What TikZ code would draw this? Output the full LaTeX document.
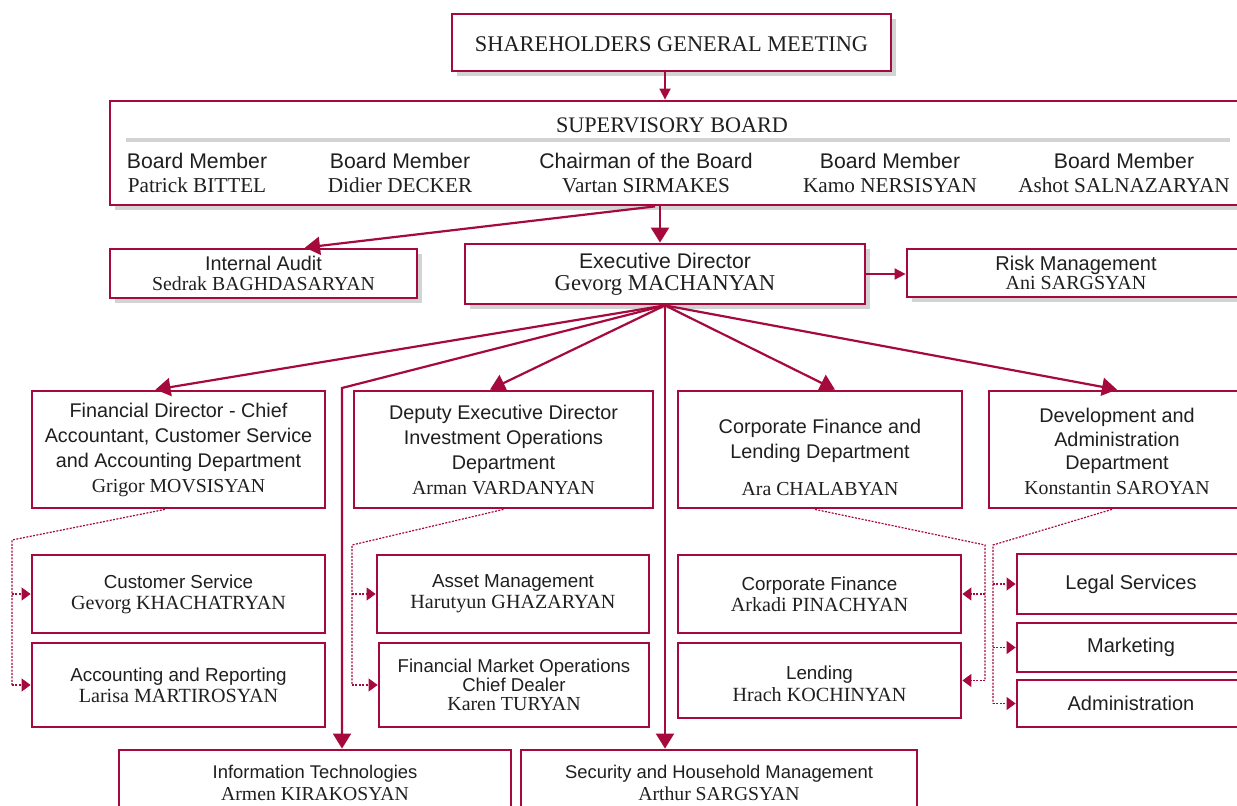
\documentclass[tikz,border=0pt]{standalone}
\usepackage{fontspec}
\setmainfont{Liberation Serif}
\setsansfont{Liberation Sans}
\newfontfamily\largenamefont{Liberation Serif}[Scale=1.07]
\usetikzlibrary{arrows.meta,shadows}
\definecolor{orgred}{RGB}{166,10,61}
\definecolor{shadowgrey}{RGB}{209,211,212}
\newcommand{\nm}[1]{{\rmfamily #1}}
\newcommand{\bnm}[1]{{\largenamefont #1}}

\begin{document}
\begin{tikzpicture}[
x=0.5pt,y=-0.5pt,
unit/.style={
	draw=orgred,line width=1.4pt,fill=white,inner sep=0pt,
	align=center,text=black!88},
shadowed/.style={drop shadow={shadow xshift=2.5pt,shadow yshift=-2.5pt,fill=shadowgrey,opacity=1}},
member/.style={align=center,inner sep=0pt,text=black!88,font=\fontsize{10.6}{12}\selectfont\sffamily},
dept/.style={unit,font=\fontsize{9.9}{12.5}\selectfont\sffamily},
sect/.style={unit,font=\fontsize{9.4}{10.5}\selectfont\sffamily},
link/.style={draw=orgred,line width=1.1pt,-{Triangle[width=9pt,length=7.5pt]}},
short link/.style={draw=orgred,line width=0.9pt,-{Triangle[width=5.5pt,length=5.5pt]}},
dots/.style={draw=orgred,line width=0.6pt,dash pattern=on 1pt off 0.7pt},
dots link/.style={dots,-{Triangle[width=6.5pt,length=4.5pt]}}
]
\clip (0,0) rectangle (1237,806);

% top of the structure
\node[unit,shadowed,minimum width=219.5pt,minimum height=28.5pt,
	font=\fontsize{11.2}{13}\selectfont\rmfamily] (sgm) at (671.5,42.5)
	{\rule{0pt}{9pt}SHAREHOLDERS GENERAL MEETING};
\node[unit,shadowed,minimum width=567.5pt,minimum height=52pt] (sb) at (677.5,153) {};
\node[inner sep=0pt,text=black!88,font=\fontsize{11.1}{13}\selectfont] (sbtitle) at (672,125)
	{SUPERVISORY BOARD};
\draw[shadowgrey,line width=2pt] (126,140) -- (1230,140);
\node[member] (m1) at (197,173) {Board Member\\\nm{Patrick BITTEL}};
\node[member] (m2) at (400,173) {Board Member\\\nm{Didier DECKER}};
\node[member] (m3) at (646,173) {Chairman of the Board\\\nm{Vartan SIRMAKES}};
\node[member] (m4) at (890,173) {Board Member\\\nm{Kamo NERSISYAN}};
\node[member] (m5) at (1124,173) {Board Member\\\nm{Ashot SALNAZARYAN}};

\node[unit,shadowed,minimum width=153.5pt,minimum height=24.5pt,
	font=\fontsize{9.9}{10}\selectfont\sffamily] (ia) at (263.5,273.5)
	{Internal Audit\\\nm{Sedrak BAGHDASARYAN}};
\node[unit,shadowed,minimum width=200pt,minimum height=30pt,
	font=\fontsize{10.6}{11}\selectfont\sffamily] (ed) at (665,274)
	{Executive Director\\\bnm{Gevorg MACHANYAN}};
\node[unit,shadowed,minimum width=169pt,minimum height=24pt,
	font=\fontsize{10}{9.5}\selectfont\sffamily] (rm) at (1076,273)
	{Risk Management\\\nm{Ani SARGSYAN}};

% departments
\node[dept,minimum width=146.5pt,minimum height=58.5pt] (fd) at (178.5,449.5)
	{Financial Director - Chief\\Accountant, Customer Service\\and Accounting Department\\\nm{Grigor MOVSISYAN}};
\node[dept,minimum width=149.5pt,minimum height=58.5pt] (dep) at (503.5,449.5)
	{Deputy Executive Director\\Investment Operations\\Department\\\nm{Arman VARDANYAN}};
\node[dept,minimum width=142pt,minimum height=58.5pt] (cfl) at (820,449.5)
	{\rule{0pt}{15pt}Corporate Finance and\\Lending Department\\[6pt]\nm{Ara CHALABYAN}};
\node[dept,minimum width=128pt,minimum height=58.5pt,
	font=\fontsize{9.9}{11.6}\selectfont\sffamily] (da) at (1117,449.5)
	{\rule{0pt}{9pt}Development and\\Administration\\Department\\[0.8pt]\nm{Konstantin SAROYAN}};

% sections
\node[sect,minimum width=146.5pt,minimum height=39pt] (cs) at (178.5,594)
	{Customer Service\\\bnm{Gevorg KHACHATRYAN}};
\node[sect,minimum width=146.5pt,minimum height=42pt] (ar) at (178.5,685)
	{Accounting and Reporting\\\bnm{Larisa MARTIROSYAN}};
\node[sect,minimum width=136pt,minimum height=39pt] (am) at (513,594)
	{Asset Management\\\bnm{Harutyun GHAZARYAN}};
\node[sect,minimum width=135pt,minimum height=42pt,
	font=\fontsize{9.3}{9.5}\selectfont\sffamily] (fmo) at (514,685)
	{Financial Market Operations\\Chief Dealer\\\bnm{Karen TURYAN}};
\node[sect,minimum width=141.5pt,minimum height=39pt] (cf) at (819.5,594)
	{Corporate Finance\\\bnm{Arkadi PINACHYAN}};
\node[sect,minimum width=141.5pt,minimum height=37.5pt,
	font=\fontsize{9.4}{11}\selectfont\sffamily] (len) at (819.5,680.5)
	{\rule{0pt}{10pt}Lending\\\bnm{Hrach KOCHINYAN}};
\node[sect,minimum width=114pt,minimum height=30pt,font=\fontsize{10}{11}\selectfont\sffamily]
	(legal) at (1131,584) {Legal Services};
\node[sect,minimum width=114pt,minimum height=24.5pt,font=\fontsize{10}{11}\selectfont\sffamily]
	(mkt) at (1131,647.5) {Marketing};
\node[sect,minimum width=114pt,minimum height=23.5pt,font=\fontsize{10}{11}\selectfont\sffamily]
	(adm) at (1131,703.5) {Administration};

\node[unit,minimum width=196pt,minimum height=40pt] (it) at (315,790) {};
\node[member,font=\fontsize{9.2}{11}\selectfont\sffamily] (itname) at (315,783)
	{Information Technologies\\\bnm{Armen KIRAKOSYAN}};
\node[unit,minimum width=198pt,minimum height=40pt] (sec) at (719,790) {};
\node[member,font=\fontsize{9.2}{11}\selectfont\sffamily] (secname) at (719,783)
	{Security and Household Management\\\bnm{Arthur SARGSYAN}};

% solid links
\draw[short link] ([xshift=-3.25pt]sgm.south) -- ([xshift=-3.25pt]sgm.south |- sb.north);
\draw[link] ([xshift=-2.5pt]ed.north |- sb.south) -- ([xshift=-2.5pt]ed.north);
\draw[link] ([xshift=-5pt]ed.north |- sb.south) -- ([xshift=20.75pt]ia.north);
\draw[short link] (ed.east) -- (ed.east -| rm.west);
\coordinate (itbend) at (342,388);
\draw[link] (ed.south) -- ([xshift=-11.5pt]fd.north);
\draw[link] (ed.south) -- (itbend) -- (itbend |- it.north);
\draw[link] (ed.south) -- ([xshift=-6.75pt]dep.north);
\draw[link] (ed.south) -- (ed.south |- sec.north);
\draw[link] (ed.south) -- ([xshift=7.5pt]cfl.north);
\draw[link] (ed.south) -- (da.north);

% dotted links
\coordinate (fdk) at (12,540);
\draw[dots] ([xshift=-6.75pt]fd.south) -- (fdk) -- (fdk |- ar.west);
\draw[dots link] (fdk |- cs.west) -- (cs.west);
\draw[dots link] (fdk |- ar.west) -- (ar.west);
\coordinate (depk) at (352,545);
\draw[dots] (dep.south) -- (depk) -- (depk |- fmo.west);
\draw[dots link] (depk |- am.west) -- (am.west);
\draw[dots link] (depk |- fmo.west) -- (fmo.west);
\coordinate (cflk) at (985,545);
\draw[dots] ([xshift=-2.5pt]cfl.south) -- (cflk) -- (cflk |- len.east);
\draw[dots link] (cflk |- cf.east) -- (cf.east);
\draw[dots link] (cflk |- len.east) -- (len.east);
\coordinate (dak) at (993,545);
\draw[dots] ([xshift=-2.5pt]da.south) -- (dak) -- (dak |- adm.west);
\draw[dots link] (dak |- legal.west) -- (legal.west);
\draw[dots link] (dak |- mkt.west) -- (mkt.west);
\draw[dots link] (dak |- adm.west) -- (adm.west);

\end{tikzpicture}
\end{document}
